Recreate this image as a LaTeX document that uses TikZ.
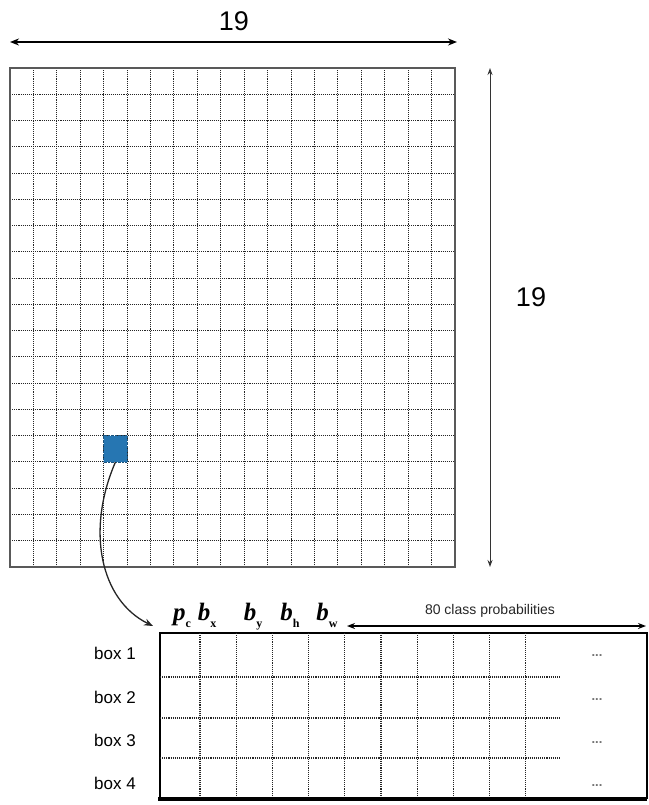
\documentclass[tikz,border=0pt]{standalone}
\usepackage{fontspec}
\setmainfont{Liberation Sans}
\newfontfamily\labelserif{Liberation Serif}
\usetikzlibrary{arrows.meta}
\definecolor{cellblue}{RGB}{38,118,178}
% bold italic vector entry with a lowered subscript
\newcommand{\entry}[2]{{\labelserif\bfseries\itshape #1\raisebox{-0.3em}{\fontsize{12}{12}\selectfont\upshape #2}}}
\tikzset{
    gridline/.style={densely dotted, line width=1.1pt, black!85},
    cellsq/.style={
        rectangle, fill=cellblue, draw=cellblue!70!black, densely dotted,
        minimum width=23.4pt, minimum height=26.3pt, inner sep=0pt
    },
    dimarrow/.style={{Stealth[length=9pt,width=7pt]}-{Stealth[length=9pt,width=7pt]}, line width=2.2pt},
    thinarrow/.style={{Stealth[length=7pt,width=5pt]}-{Stealth[length=7pt,width=5pt]}, line width=1pt, black!80},
    dimlabel/.style={font=\fontsize{27}{30}\selectfont},
    rowlabel/.style={font=\fontsize{17}{20}\selectfont},
    entrylabel/.style={anchor=base, font=\fontsize{25}{28}\selectfont, inner sep=0pt},
    moredots/.style={font=\fontsize{13}{13}\selectfont\bfseries, text=black!55}
}
\begin{document}
\begin{tikzpicture}[x=1pt, y=-1pt]
    \useasboundingbox (0,0) rectangle (648,805);

    % 19 x 19 grid
    \foreach \i in {1,...,18} {
        \draw[gridline] ({10+\i*23.421},68) -- ({10+\i*23.421},567);
        \draw[gridline] (10,{68+\i*26.263}) -- (455,{68+\i*26.263});
    }
    \draw[black!65, line width=1.6pt] (10,68) rectangle (455,567);
    \node[cellsq] (cell) at ({10+4.5*23.421},{68+14.5*26.263}) {};

    % dimensions
    \coordinate (wl) at (10,42);
    \coordinate (wr) at (457,42);
    \draw[dimarrow] (wl) -- (wr);
    \node[dimlabel] (wlabel) at (234,21) {19};
    \coordinate (ht) at (490,68);
    \coordinate (hb) at (490,567);
    \draw[thinarrow] (ht) -- (hb);
    \node[dimlabel] (hlabel) at (531,297) {19};

    % output vector table
    \draw[line width=1.3pt] (160,799) -- (160,633) -- (647,633) -- (647,799);
    \foreach \k in {0,...,9}
        \draw[gridline] ({200+36.2*\k},633) -- ({200+36.2*\k},797);
    \foreach \y in {677,718,758}
        \draw[gridline] (160,\y) -- (560,\y);
    \draw[line width=4pt] (158,799) -- (647,799);

    \foreach \n/\y in {1/653,2/697,3/740,4/783} {
        \node[rowlabel] (box\n) at (115,\y) {box \n};
        \node[moredots] (more\n) at (597,{\y+3}) {...};
    }

    \node[entrylabel] (pc) at (182,620) {\entry{p}{c}};
    \node[entrylabel] (bx) at (207,620) {\entry{b}{x}};
    \node[entrylabel] (by) at (253,620) {\entry{b}{y}};
    \node[entrylabel] (bh) at (290,620) {\entry{b}{h}};
    \node[entrylabel] (bw) at (327,620) {\entry{b}{w}};

    \coordinate (pl) at (347,626);
    \coordinate (pr) at (646,626);
    \draw[{Stealth[length=8pt,width=6pt]}-{Stealth[length=8pt,width=6pt]}, line width=1.6pt] (pl) -- (pr);
    \node[font=\fontsize{14}{16}\selectfont, text=black!85] (probs) at (490,611) {80 class probabilities};

    % link from the grid cell to its vector
    \coordinate (tabtip) at (153,626);
    \draw[-{Stealth[length=9pt,width=7pt]}, line width=1.3pt, black!85]
        (cell.south) .. controls (86,530) and (100,600) .. (tabtip);
\end{tikzpicture}
\end{document}
